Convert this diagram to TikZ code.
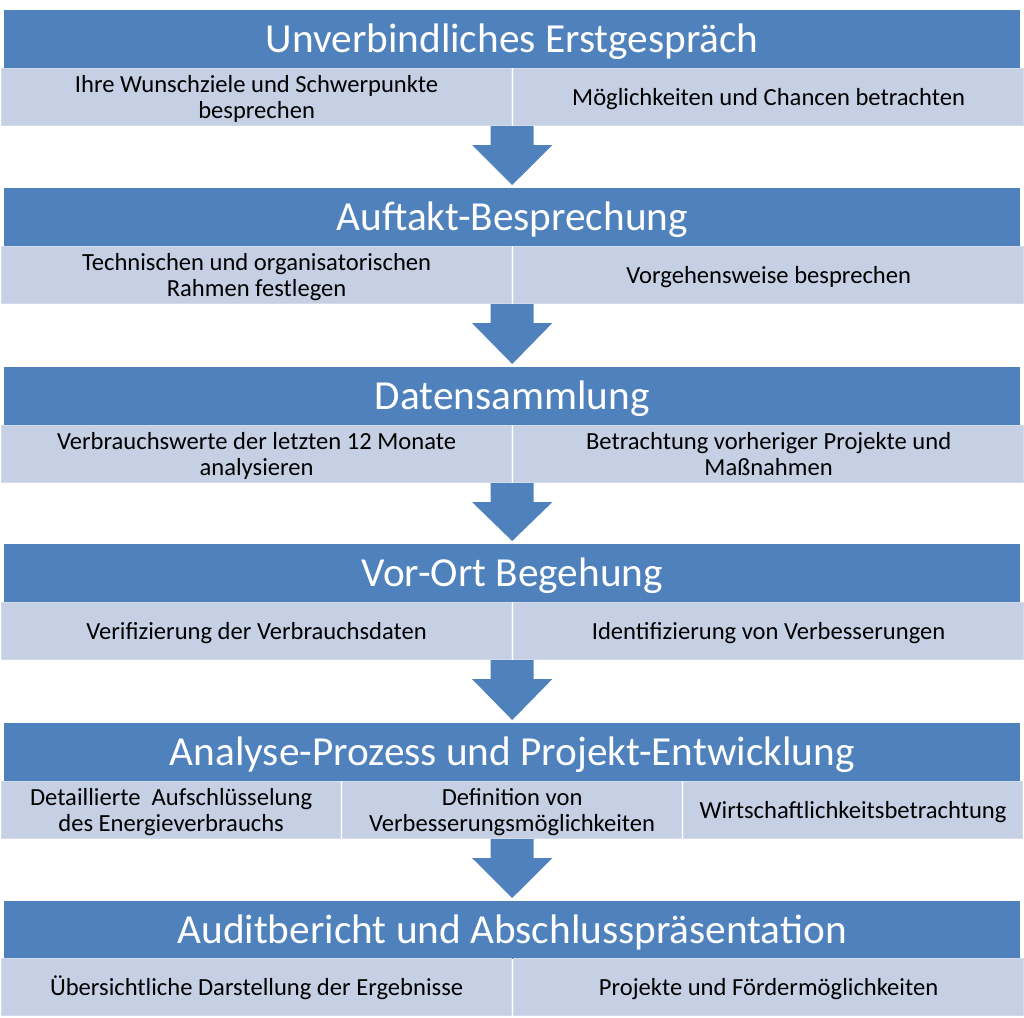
\documentclass[tikz,border=0pt]{standalone}
\usepackage{fontspec}
\setmainfont{Carlito}
\usetikzlibrary{calc}
\definecolor{hdr}{HTML}{4F81BD}
\definecolor{cellfill}{HTML}{C5D0E4}
\definecolor{cellline}{HTML}{D3DAE8}
\tikzset{
  header/.style={fill=hdr, text=white, font=\fontsize{41.3}{44}\selectfont,
    inner sep=0pt, anchor=north west, minimum width=1016pt, minimum height=58pt,
    text height=26.6pt, text depth=0pt},
  cellbox/.style={fill=cellfill, draw=cellline, line width=1.2pt, text=black,
    font=\fontsize{24.6}{26}\selectfont, inner sep=0pt, anchor=north west,
    minimum height=57pt, align=center, text depth=0pt},
  oneline/.style={text height=15.8pt},
  twoline/.style={text height=41.8pt},
  twocell/.style={cellbox, minimum width=510pt},
  threecell/.style={cellbox, minimum width=339pt},
  blockarrow/.style={fill=hdr}
}
\newcommand{\downarrowshape}[2]{%
  \fill[blockarrow] ($(#1)+(-21.5,0)$) -- ($(#1)+(21.5,0)$) -- ($(#1)+(21.5,19)$)
    -- ($(#1)+(40,19)$) -- ($(#2)+(0,-3)$) -- ($(#1)+(-40,19)$) -- ($(#1)+(-21.5,19)$) -- cycle;}
\begin{document}
\begin{tikzpicture}[x=1pt,y=-1pt]
\useasboundingbox (0,0) rectangle (1024,1017);
% Block 1
\node[header] (h1) at (4,10) {Unverbindliches Erstgespräch};
\node[twocell,twoline] (c1a) at (1,68) {Ihre Wunschziele und Schwerpunkte\\besprechen};
\node[twocell,oneline] (c1b) at (513,68) {Möglichkeiten und Chancen betrachten};
% Block 2
\node[header] (h2) at (4,188) {Auftakt-Besprechung};
\node[twocell,twoline] (c2a) at (1,246) {Technischen und organisatorischen\\Rahmen festlegen};
\node[twocell,oneline] (c2b) at (513,246) {Vorgehensweise besprechen};
% Block 3
\node[header] (h3) at (4,367) {Datensammlung};
\node[twocell,twoline] (c3a) at (1,425) {Verbrauchswerte der letzten 12 Monate\\analysieren};
\node[twocell,twoline] (c3b) at (513,425) {Betrachtung vorheriger Projekte und\\Maßnahmen};
% Block 4
\node[header] (h4) at (4,544) {Vor-Ort Begehung};
\node[twocell,oneline] (c4a) at (1,602) {Verifizierung der Verbrauchsdaten};
\node[twocell,oneline] (c4b) at (513,602) {Identifizierung von Verbesserungen};
% Block 5
\node[header] (h5) at (4,723) {Analyse-Prozess und Projekt-Entwicklung};
\node[threecell,twoline] (c5a) at (1,781) {Detaillierte~ Aufschlüsselung\\des Energieverbrauchs};
\node[threecell,twoline] (c5b) at (342,781) {Definition von\\Verbesserungsmöglichkeiten};
\node[threecell,oneline] (c5c) at (683,781) {Wirtschaftlichkeitsbetrachtung};
% Block 6
\node[header] (h6) at (4,901) {Auditbericht und Abschlusspräsentation};
\node[twocell,oneline] (c6a) at (1,958) {Übersichtliche Darstellung der Ergebnisse};
\node[twocell,oneline] (c6b) at (513,958) {Projekte und Fördermöglichkeiten};
% arrows
\coordinate (a1s) at (h1.south |- c1a.south);
\coordinate (a2s) at (h2.south |- c2a.south);
\coordinate (a3s) at (h3.south |- c3a.south);
\coordinate (a4s) at (h4.south |- c4a.south);
\coordinate (a5s) at (h5.south |- c5a.south);
\downarrowshape{a1s}{h2.north}
\downarrowshape{a2s}{h3.north}
\downarrowshape{a3s}{h4.north}
\downarrowshape{a4s}{h5.north}
\downarrowshape{a5s}{h6.north}
\end{tikzpicture}
\end{document}
